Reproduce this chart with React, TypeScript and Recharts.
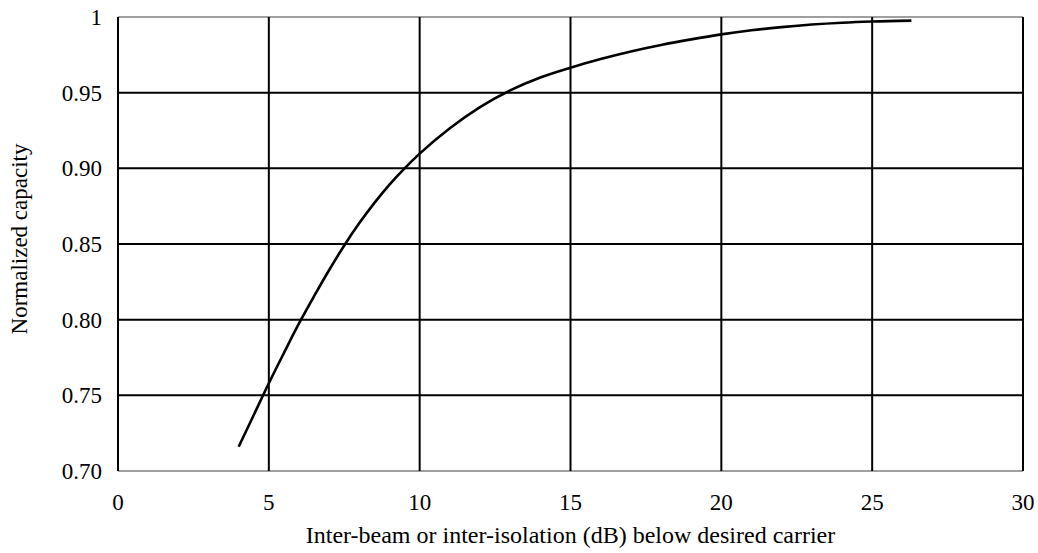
import React from 'react';
import { LineChart, Line, XAxis, YAxis, ReferenceLine, Label } from 'recharts';

const isolationDb = [4.0, 4.5, 5.0, 5.5, 6.0, 6.5, 7.0, 7.5, 8.0, 8.5, 9.0, 9.5, 10.0, 11.0, 12.0, 13.0, 14.0, 15.0, 16.0, 17.0, 18.0, 19.0, 20.0, 21.0, 22.0, 23.0, 24.0, 25.0, 26.3];
const capacity = [0.716, 0.737, 0.758, 0.778, 0.7975, 0.8155, 0.8328, 0.849, 0.8638, 0.8772, 0.8893, 0.9, 0.9097, 0.9265, 0.9405, 0.9515, 0.96, 0.9665, 0.9722, 0.9772, 0.9815, 0.9852, 0.9885, 0.9912, 0.9933, 0.995, 0.9962, 0.997, 0.9976];

const xTicks = [0, 5, 10, 15, 20, 25, 30];
const yTicks = [0.7, 0.75, 0.8, 0.85, 0.9, 0.95, 1];
const yInnerGrid = [0.75, 0.8, 0.85, 0.9, 0.95];
const yEdgeGrid = [0.7, 1];

const xTitle = 'Inter-beam or inter-isolation (dB) below desired carrier';
const yTitle = 'Normalized capacity';

const data = isolationDb.map((x, i) => ({ x, y: capacity[i] }));

const FONT = '"Liberation Serif", "Times New Roman", serif';
const FS = 23;

const fmtY = (v: number) => (v === 1 ? '1' : v.toFixed(2));

const YTitle = (props: any) => {
  const vb = props.viewBox || {};
  const x = (vb.x || 0) + 19;
  const y = (vb.y || 0) + (vb.height || 0) / 2 - 5;
  return (
    <text x={x} y={y} transform={`rotate(-90, ${x}, ${y})`} textAnchor="middle" dominantBaseline="central" fontFamily={FONT} fontSize={FS} fill="#000">
      {yTitle}
    </text>
  );
};

const XTitle = (props: any) => {
  const vb = props.viewBox || {};
  const x = (vb.x || 0) + (vb.width || 0) / 2;
  const y = (vb.y || 0) + 72;
  return (
    <text x={x} y={y} textAnchor="middle" fontFamily={FONT} fontSize={24} fill="#000">
      {xTitle}
    </text>
  );
};

export default function App() {
  return (
    <div style={{ position: 'absolute', left: 0, top: 0, width: 1038, height: 553, background: '#fff' }}>
      <LineChart width={1038} height={553} data={data} margin={{ top: 17, right: 15, bottom: 0, left: 0 }}>
        <XAxis
          type="number"
          dataKey="x"
          domain={[0, 30]}
          ticks={xTicks}
          interval={0}
          axisLine={false}
          tickLine={false}
          tickSize={6}
          tickMargin={17}
          height={82}
          tick={{ fontFamily: FONT, fontSize: FS, fill: '#000' }}
        >
          <Label content={<XTitle />} />
        </XAxis>
        <YAxis
          type="number"
          domain={[0.7, 1]}
          ticks={yTicks}
          interval={0}
          axisLine={false}
          tickLine={false}
          tickSize={6}
          tickMargin={10}
          width={118}
          tickFormatter={fmtY}
          tick={{ fontFamily: FONT, fontSize: FS, fill: '#000' }}
        >
          <Label content={<YTitle />} />
        </YAxis>
        {yEdgeGrid.map((v) => (
          <ReferenceLine key={'ye' + v} y={v} stroke="#7f7f7f" strokeWidth={1.5} ifOverflow="extendDomain" />
        ))}
        {yInnerGrid.map((v) => (
          <ReferenceLine key={'yi' + v} y={v} stroke="#000" strokeWidth={2} />
        ))}
        {xTicks.map((v) => (
          <ReferenceLine key={'x' + v} x={v} stroke="#000" strokeWidth={2} />
        ))}
        <Line
          type="monotone"
          dataKey="y"
          stroke="#000"
          strokeWidth={2.6}
          dot={false}
          isAnimationActive={false}
        />
      </LineChart>
    </div>
  );
}
